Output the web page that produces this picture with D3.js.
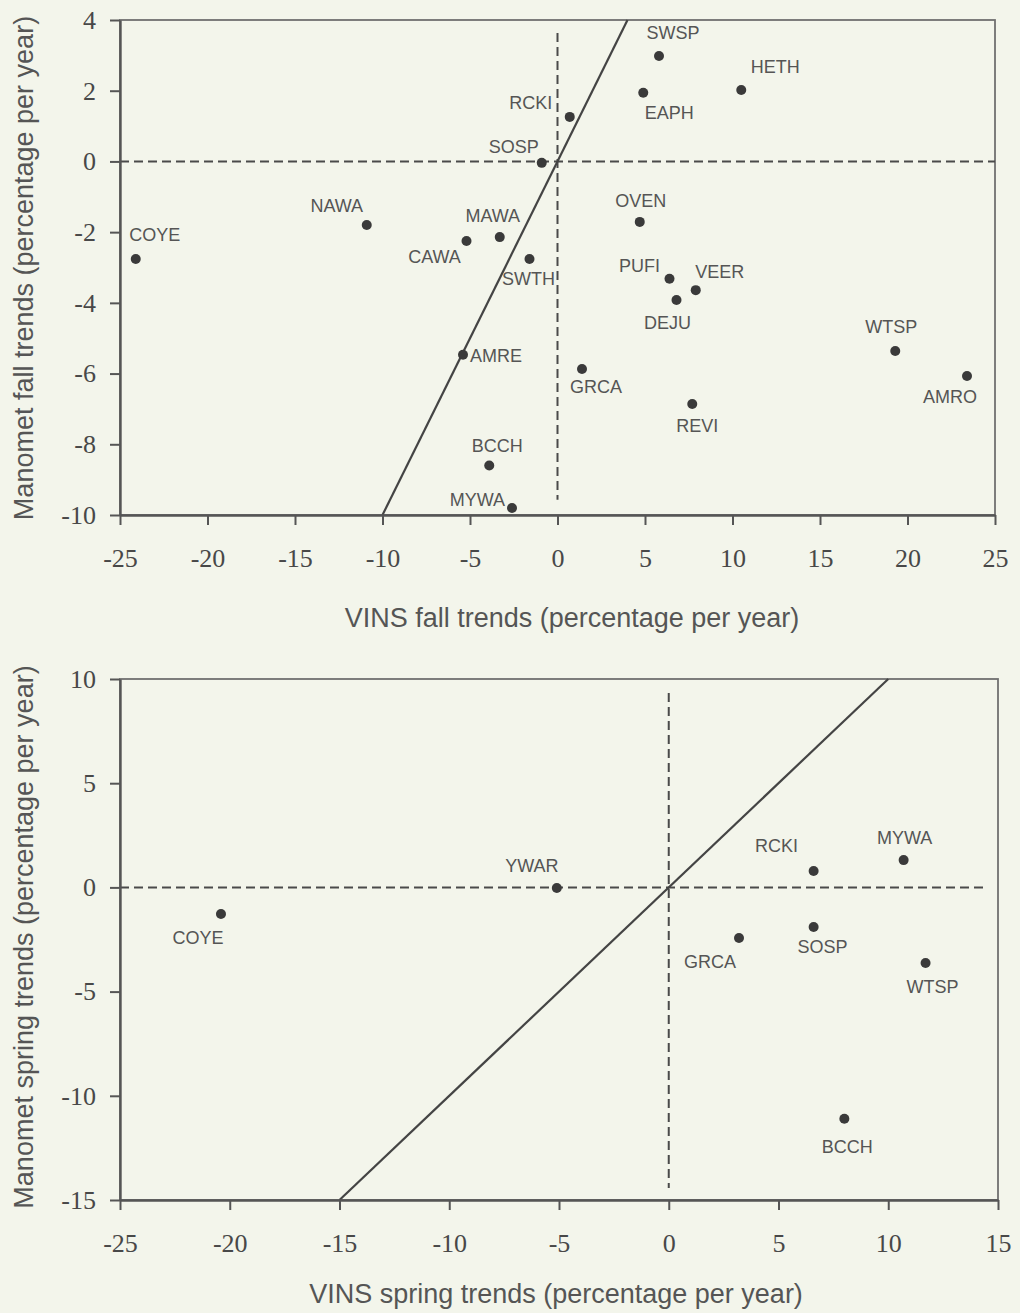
<!DOCTYPE html>
<html>
<head>
<meta charset="utf-8">
<script src="https://cdn.jsdelivr.net/npm/d3@7"></script>
<style>
  body { margin: 0; background: #f3f5eb; }
  svg { display: block; }
</style>
</head>
<body>
<svg id="chart" width="1020" height="1313"></svg>
<script>

// fall panel data (VINS vs Manomet, percentage per year)
var fallCodes = ["COYE", "NAWA", "CAWA", "MAWA", "SWTH", "SOSP", "RCKI", "AMRE", "BCCH", "MYWA",
                 "SWSP", "EAPH", "HETH", "OVEN", "PUFI", "VEER", "DEJU", "GRCA", "REVI", "WTSP", "AMRO"];
var fallVins = [-24.1, -10.9, -5.2, -3.3, -1.6, -0.9, 0.7, -5.4, -3.9, -2.6,
                5.8, 4.9, 10.5, 4.7, 6.4, 7.9, 6.8, 1.4, 7.7, 19.3, 23.4];
var fallManomet = [-2.76, -1.8, -2.25, -2.14, -2.76, -0.04, 1.26, -5.47, -8.6, -9.8,
                   2.98, 1.94, 2.02, -1.71, -3.32, -3.64, -3.92, -5.87, -6.86, -5.36, -6.07];

// spring panel data
var springCodes = ["COYE", "YWAR", "RCKI", "MYWA", "GRCA", "SOSP", "WTSP", "BCCH"];
var springVins = [-20.4, -5.1, 6.6, 10.7, 3.2, 6.6, 11.7, 8.0];
var springManomet = [-1.28, -0.03, 0.79, 1.31, -2.43, -1.9, -3.63, -11.1];

// axis ticks
var fallXTicks = [-25, -20, -15, -10, -5, 0, 5, 10, 15, 20, 25];
var fallYTicks = [-10, -8, -6, -4, -2, 0, 2, 4];
var springXTicks = [-25, -20, -15, -10, -5, 0, 5, 10, 15];
var springYTicks = [-15, -10, -5, 0, 5, 10];

// label placement relative to each dot: [dx, dy, anchor]
var fallLabelPos = {
    COYE: [19, -18, "middle"], NAWA: [-30, -13, "middle"], CAWA: [-32, 22, "middle"],
    MAWA: [-7, -15, "middle"], SWTH: [-1, 26, "middle"], SOSP: [-28, -10, "middle"],
    RCKI: [-39, -8, "middle"], AMRE: [7, 7, "start"], BCCH: [8, -14, "middle"],
    MYWA: [-7, -2, "end"], SWSP: [14, -17, "middle"], EAPH: [26, 26, "middle"],
    HETH: [34, -17, "middle"], OVEN: [1, -15, "middle"], PUFI: [-30, -7, "middle"],
    VEER: [24, -12, "middle"], DEJU: [-9, 29, "middle"], GRCA: [14, 24, "middle"],
    REVI: [5, 28, "middle"], WTSP: [-4, -18, "middle"], AMRO: [-17, 27, "middle"]
};
var springLabelPos = {
    COYE: [-23, 30, "middle"], YWAR: [-25, -16, "middle"], RCKI: [-37, -19, "middle"],
    MYWA: [1, -16, "middle"], GRCA: [-29, 30, "middle"], SOSP: [9, 26, "middle"],
    WTSP: [7, 30, "middle"], BCCH: [3, 34, "middle"]
};

var svg = d3.select("#chart");

var textColor = "#555";
var lineColor = "#4a4a4a";
var dotColor = "#3a3a3a";

function drawPanel(p) {

    var x = d3.scaleLinear().domain(p.xDomain).range(p.xRange);
    var y = d3.scaleLinear().domain(p.yDomain).range(p.yRange);
    var g = svg.append("g");

    // frame
    g.append("rect")
        .attr("x", p.xRange[0])
        .attr("y", p.yRange[1])
        .attr("width", p.xRange[1] - p.xRange[0])
        .attr("height", p.yRange[0] - p.yRange[1])
        .attr("fill", "none")
        .attr("stroke", "#707070")
        .attr("stroke-width", 1.8);

    // dashed zero lines
    g.append("line")
        .attr("x1", x(p.xDomain[0])).attr("x2", x(p.hEnd))
        .attr("y1", y(0)).attr("y2", y(0))
        .attr("stroke", lineColor).attr("stroke-width", 2)
        .attr("stroke-dasharray", "9,5");
    g.append("line")
        .attr("x1", x(0)).attr("x2", x(0))
        .attr("y1", y(p.vTop)).attr("y2", y(p.vBottom))
        .attr("stroke", lineColor).attr("stroke-width", 2)
        .attr("stroke-dasharray", "9,5");

    // 1:1 line
    g.append("path")
        .attr("d", d3.line()([[x(p.diag[0]), y(p.diag[0])], [x(p.diag[1]), y(p.diag[1])]]))
        .attr("stroke", "#444").attr("stroke-width", 2.2).attr("fill", "none");

    // axes
    var xAxis = g.append("g")
        .attr("transform", "translate(0," + p.yRange[0] + ")")
        .call(d3.axisBottom(x).tickValues(p.xTicks).tickSize(10).tickSizeOuter(0)
            .tickPadding(24).tickFormat(function (d) { return String(d); }));
    var yAxis = g.append("g")
        .attr("transform", "translate(" + p.xRange[0] + ",0)")
        .call(d3.axisLeft(y).tickValues(p.yTicks).tickSize(10).tickSizeOuter(0)
            .tickPadding(14).tickFormat(function (d) { return String(d); }));

    [xAxis, yAxis].forEach(function (a) {
        a.attr("font-family", null).attr("font-size", null);
        a.select(".domain").style("stroke", "#555").style("stroke-width", "2.4px");
        a.selectAll(".tick line").style("stroke", "#555").style("stroke-width", "2px");
        a.selectAll(".tick text")
            .style("fill", "#484848")
            .style("font-family", "'Liberation Serif', 'Times New Roman', serif")
            .style("font-size", "26px");
    });

    // points
    g.selectAll("circle.pt")
        .data(p.codes)
        .join("circle")
        .attr("class", "pt")
        .attr("cx", function (d, i) { return x(p.xs[i]); })
        .attr("cy", function (d, i) { return y(p.ys[i]); })
        .attr("r", 5)
        .attr("fill", dotColor);

    // labels
    g.selectAll("text.lbl")
        .data(p.codes)
        .join("text")
        .attr("class", "lbl")
        .attr("x", function (d, i) { return x(p.xs[i]) + p.labelPos[d][0]; })
        .attr("y", function (d, i) { return y(p.ys[i]) + p.labelPos[d][1]; })
        .attr("text-anchor", function (d) { return p.labelPos[d][2]; })
        .attr("fill", textColor)
        .attr("font-family", "'Liberation Sans', Arial, sans-serif")
        .attr("font-size", 18)
        .text(function (d) { return d; });

    // titles
    g.append("text")
        .attr("x", p.xTitlePos[0])
        .attr("y", p.xTitlePos[1])
        .attr("text-anchor", "middle")
        .attr("fill", textColor)
        .attr("font-family", "'Liberation Sans', Arial, sans-serif")
        .attr("font-size", 27)
        .text(p.xTitle);

    g.append("text")
        .attr("transform", "translate(33," + p.yTitleCenter + ") rotate(-90)")
        .attr("text-anchor", "middle")
        .attr("fill", textColor)
        .attr("font-family", "'Liberation Sans', Arial, sans-serif")
        .attr("font-size", 27)
        .text(p.yTitle);
}

drawPanel({
    codes: fallCodes, xs: fallVins, ys: fallManomet, labelPos: fallLabelPos,
    xDomain: [-25, 25], yDomain: [-10, 4],
    xRange: [120, 995], yRange: [515, 20],
    xTicks: fallXTicks, yTicks: fallYTicks,
    hEnd: 25, vTop: 3.63, vBottom: -9.57, diag: [-10, 4],
    xTitle: "VINS fall trends (percentage per year)", xTitlePos: [572, 627],
    yTitle: "Manomet fall trends (percentage per year)", yTitleCenter: 268
});

drawPanel({
    codes: springCodes, xs: springVins, ys: springManomet, labelPos: springLabelPos,
    xDomain: [-25, 15], yDomain: [-15, 10],
    xRange: [120, 998], yRange: [1200, 679],
    xTicks: springXTicks, yTicks: springYTicks,
    hEnd: 14.5, vTop: 9.33, vBottom: -14.42, diag: [-15, 10],
    xTitle: "VINS spring trends (percentage per year)", xTitlePos: [556, 1303],
    yTitle: "Manomet spring trends (percentage per year)", yTitleCenter: 937
});

</script>
</body>
</html>
